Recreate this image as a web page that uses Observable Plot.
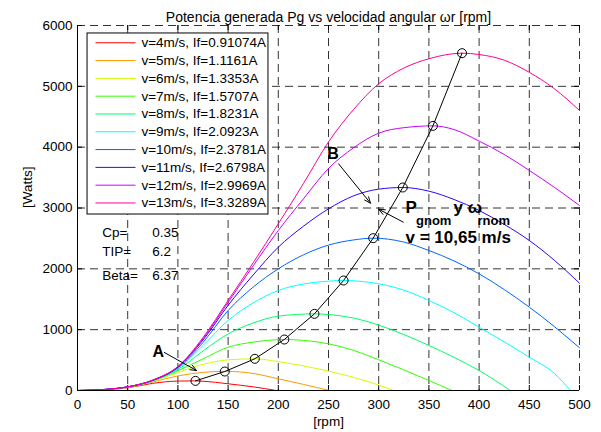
<!DOCTYPE html>
<html><head><meta charset="utf-8">
<script src="https://cdn.jsdelivr.net/npm/d3@7"></script>
<script src="https://cdn.jsdelivr.net/npm/@observablehq/plot@0.6"></script>
<style>body{margin:0;background:#fff}</style>
</head><body><div id="chart"></div>
<script>
// Legend labels (one per wind speed)
const labels = ["v=4m/s, If=0.91074A","v=5m/s, If=1.1161A","v=6m/s, If=1.3353A","v=7m/s, If=1.5707A","v=8m/s, If=1.8231A","v=9m/s, If=2.0923A","v=10m/s, If=2.3781A","v=11m/s, If=2.6798A","v=12m/s, If=2.9969A","v=13m/s, If=3.3289A"];
const colors = ["#ff0000","#ff9900","#ccff00","#33ff00","#00ff66","#00ffff","#0066ff","#3300ff","#cc00ff","#ff0099"];

// Curves: [rpm, Watts]
const v4  = [[0,0],[25,12],[50,45],[75,118],[100,155],[117.5,158],[125,153],[150,110],[175,60],[198,0]];
const v5  = [[0,0],[25,12],[50,50],[75,140],[100,240],[125,298],[147,315],[175,280],[200,192],[225,100],[251,0]];
const v6  = [[0,0],[25,13],[50,55],[75,152],[100,295],[125,430],[150,504],[177,521],[200,475],[225,405],[250,318],[275,215],[300,90],[315,0]];
const v7  = [[0,0],[25,13],[50,57],[75,160],[100,325],[125,520],[150,712],[175,795],[206,838],[225,825],[250,767],[275,660],[300,505],[325,340],[350,164],[373,0]];
const v8  = [[0,0],[25,14],[50,58],[75,163],[100,345],[125,650],[150,930],[175,1110],[200,1222],[236,1260],[250,1249],[275,1190],[300,1075],[325,920],[350,740],[375,545],[400,329],[431,0]];
const v9  = [[0,0],[25,14],[50,60],[75,165],[100,360],[125,740],[150,1151],[175,1440],[200,1644],[225,1750],[250,1797],[265,1808],[290,1780],[325,1650],[350,1480],[375,1280],[400,1041],[425,800],[450,548],[475,280],[491,0]];
const v10 = [[0,0],[25,15],[50,60],[75,165],[100,375],[125,790],[150,1315],[175,1700],[200,2000],[225,2230],[250,2390],[275,2475],[294.5,2504],[325,2440],[350,2301],[375,2130],[400,1918],[425,1660],[450,1370],[475,1050],[500,702]];
const v11 = [[0,0],[25,15],[50,60],[75,168],[100,385],[125,830],[150,1400],[175,1900],[200,2356],[225,2700],[250,2986],[275,3200],[300,3310],[324,3337],[350,3277],[375,3140],[400,2959],[425,2730],[450,2466],[475,2140],[500,1764]];
const v12 = [[0,0],[25,15],[50,60],[75,170],[100,390],[125,850],[150,1450],[175,2050],[200,2630],[225,3150],[250,3650],[275,3990],[300,4230],[325,4320],[354,4350],[375,4290],[400,4100],[425,3880],[450,3617],[475,3340],[500,3041]];
const v13 = [[0,0],[25,15],[50,60],[75,172],[100,395],[125,870],[150,1480],[175,2100],[200,2740],[225,3400],[250,4085],[275,4620],[300,5042],[325,5300],[350,5453],[383,5545],[400,5523],[425,5430],[450,5230],[475,4960],[500,4603]];
const curves = [v4,v5,v6,v7,v8,v9,v10,v11,v12,v13];

// Nominal points (circles)
const nomRpm = [117.5,146.7,176.6,206,236,265,294.5,324,354,383];
const nomPow = [158,312,521,838,1260,1808,2504,3337,4350,5545];

const xTicks = [0,50,100,150,200,250,300,350,400,450,500];
const yTicks = [0,1000,2000,3000,4000,5000,6000];
const xGrid = [50,100,150,200,250,300,350,400,450,500];
const yGrid = [1000,2000,3000,4000,5000,6000];

const series = curves.flatMap((c,i)=>c.map(([x,y])=>({x,y,s:labels[i]})));
const nominal = nomRpm.map((x,i)=>({x,y:nomPow[i]}));

// legend layout in data units
const legRows = labels.map((s,i)=>({s, y:5716 - i*292.6}));
const params = [{k:"Cp=",v:"0.35",y:2602},{k:"TIP=",v:"6.2",y:2274},{k:"Beta=",v:"6.37",y:1890}];

const font = "'Liberation Sans', Arial, Helvetica, sans-serif";
const dash = "8,5";

const chart = Plot.plot({
  width:601, height:432,
  marginLeft:77, marginRight:22, marginTop:25, marginBottom:42,
  x:{domain:[0,500]},
  y:{domain:[0,6000]},
  color:{domain:labels, range:colors},
  style:{fontFamily:font, fontSize:"13px", background:"white", color:"black", overflow:"visible"},
  marks:[
    Plot.ruleX(xGrid, {stroke:"#000", strokeWidth:0.8, strokeDasharray:dash}),
    Plot.ruleY(yGrid, {stroke:"#000", strokeWidth:0.8, strokeDasharray:dash}),
    // inward ticks
    Plot.ruleX(xTicks, {y1:0, y2:82, stroke:"#000"}),
    Plot.ruleX(xTicks, {y1:5918, y2:6000, stroke:"#000"}),
    Plot.ruleY(yTicks, {x1:0, x2:5, stroke:"#000"}),
    Plot.ruleY(yTicks, {x1:495, x2:500, stroke:"#000"}),
    Plot.line(series, {x:"x", y:"y", z:"s", stroke:"s", strokeWidth:1, curve:"monotone-x"}),
    Plot.line(nominal, {x:"x", y:"y", stroke:"#000", strokeWidth:1}),
    Plot.dot(nominal, {x:"x", y:"y", r:4.5, stroke:"#000", fill:"none", strokeWidth:1}),
    // legend
    Plot.rect([0], {x1:10, x2:190.2, y1:2893, y2:5869, fill:"white", stroke:"#000", strokeWidth:1}),
    Plot.link(legRows, {x1:17.9, x2:57.8, y1:"y", y2:"y", stroke:"s", strokeWidth:1}),
    Plot.text(legRows, {x:63.7, y:"y", text:"s", textAnchor:"start", fontSize:13.5, fill:"#000"}),
    // parameters
    Plot.text(params, {x:24.6, y:"y", text:"k", textAnchor:"start", fontSize:13.5, fill:"#000"}),
    Plot.text(params, {x:74.4, y:"y", text:"v", textAnchor:"start", fontSize:13.5, fill:"#000"}),
    // annotations
    Plot.text([{x:80.5, y:630, t:"A"},{x:254.5, y:3883, t:"B"}], {x:"x", y:"y", text:"t", fontSize:16, fontWeight:"bold", fill:"#000"}),
    Plot.arrow([{x1:86.5,y1:625,x2:118.5,y2:329},{x1:260,y1:3727,x2:291.8,y2:3079},{x1:324.5,y1:2767,x2:300,y2:2980}],
      {x1:"x1", y1:"y1", x2:"x2", y2:"y2", stroke:"#000", strokeWidth:1, headLength:10, headAngle:45}),
    Plot.text([{x:326.7, y:3000, t:"P"}], {x:"x", y:"y", text:"t", textAnchor:"start", fontSize:17, fontWeight:"bold", fill:"#000"}),
    Plot.text([{x:326.7, y:2795, t:"gnom"}], {x:"x", y:"y", text:"t", dx:10.5, textAnchor:"start", fontSize:13, fontWeight:"bold", fill:"#000"}),
    Plot.text([{x:326.7, y:3000, t:"y \u03c9"}], {x:"x", y:"y", text:"t", dx:48, textAnchor:"start", fontSize:17, fontWeight:"bold", fill:"#000"}),
    Plot.text([{x:326.7, y:2795, t:"rnom"}], {x:"x", y:"y", text:"t", dx:72, textAnchor:"start", fontSize:13, fontWeight:"bold", fill:"#000"}),
    Plot.text([{x:326.7, y:2515, t:"v = 10,65 m/s"}], {x:"x", y:"y", text:"t", textAnchor:"start", fontSize:17, fontWeight:"bold", fill:"#000"}),
    // axes
    Plot.ruleX([0], {stroke:"#000"}),
    Plot.ruleY([0], {stroke:"#000"}),
    Plot.axisX({ticks:xTicks, tickSize:0, tickPadding:9, fontSize:13.5, tickFormat:"d", label:null}),
    Plot.axisY({ticks:yTicks, tickSize:0, tickPadding:5, fontSize:13.5, tickFormat:"d", label:null}),
    Plot.text(["[rpm]"], {frameAnchor:"bottom", dy:35, fontSize:13.5, fill:"#000"}),
    Plot.text(["[Watts]"], {frameAnchor:"left", dx:-50, rotate:-90, fontSize:13.5, fill:"#000"}),
    Plot.text(["Potencia generada Pg vs velocidad angular \u03c9r [rpm]"], {frameAnchor:"top", dy:-13.5, fontSize:14, fill:"#000"})
  ]
});
document.getElementById("chart").appendChild(chart);
</script>
</body></html>
